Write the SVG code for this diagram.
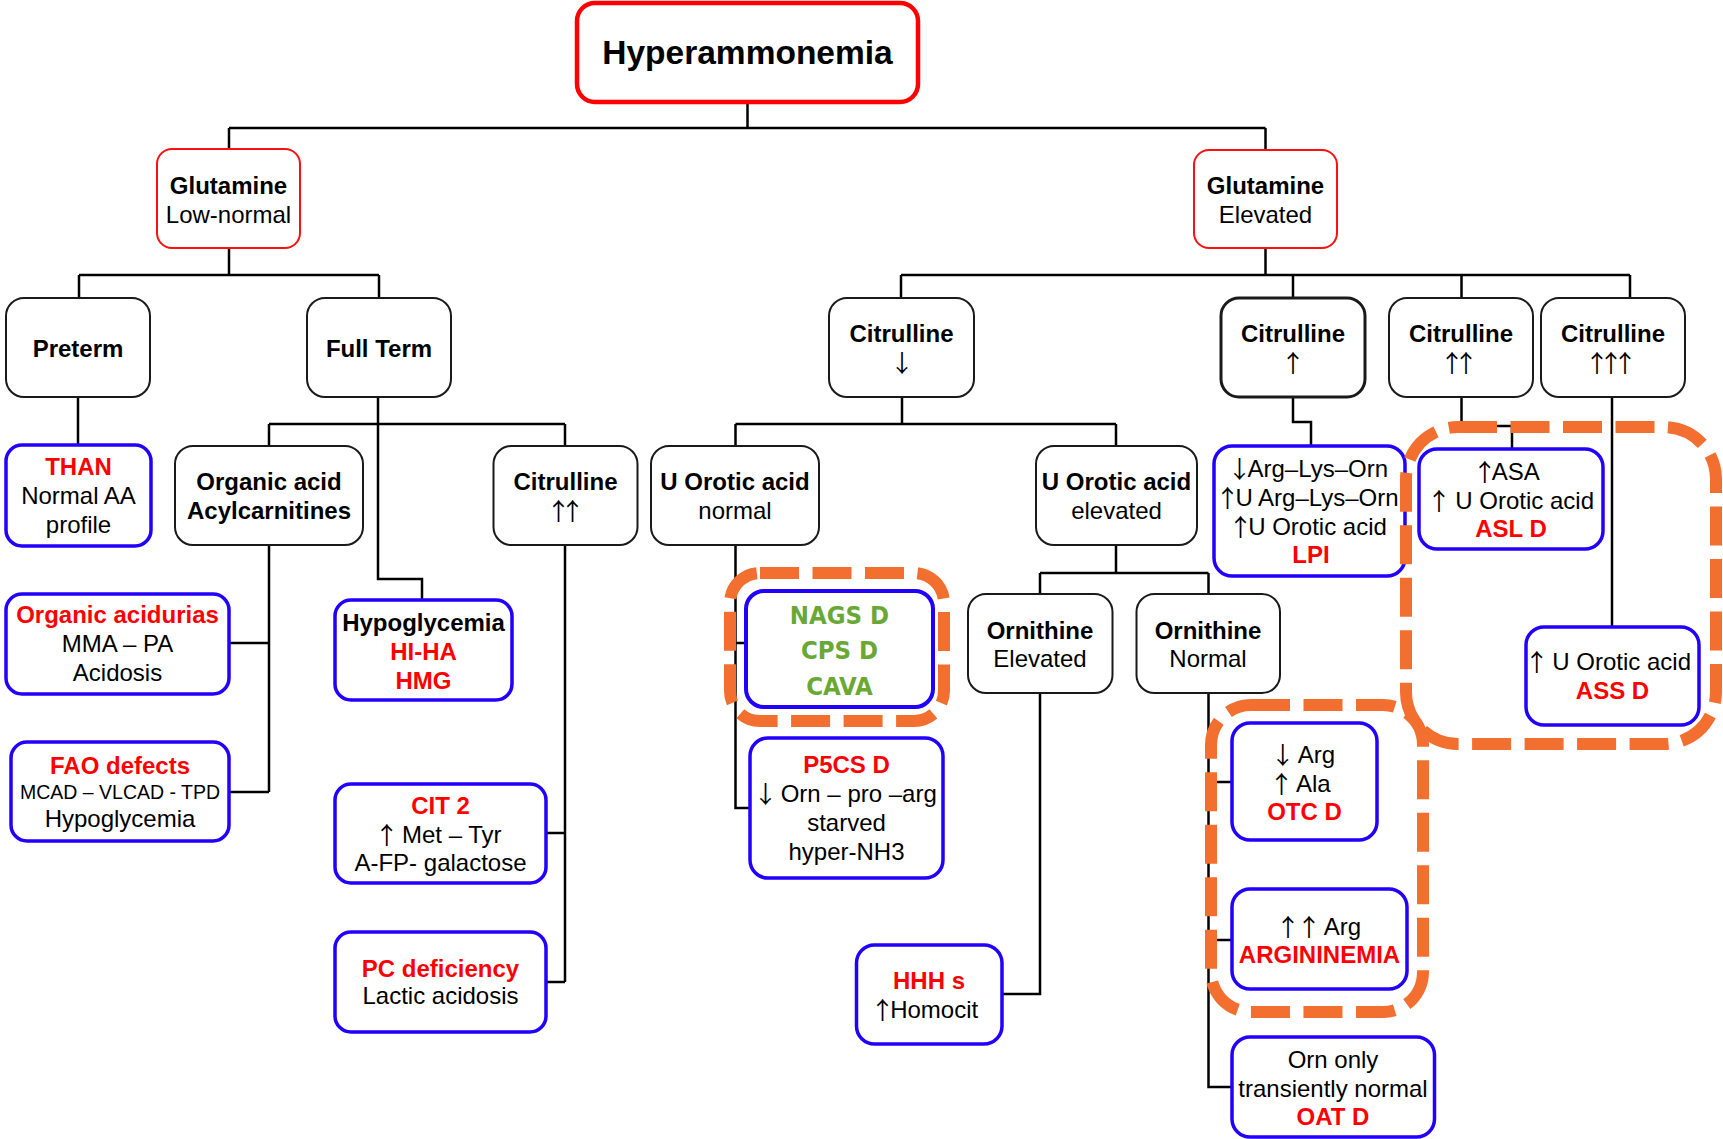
<svg xmlns="http://www.w3.org/2000/svg" width="1723" height="1139" viewBox="0 0 1723 1139">
<style>
.box{fill:#fff;stroke:#1a1a1a;stroke-width:2}
.rb{fill:#fff;stroke:#ff1010;stroke-width:2}
.bb{fill:#fff;stroke:#2200ff;stroke-width:3.5}
.t{font-family:"Liberation Sans",Arial,sans-serif;font-size:24px;text-anchor:middle;fill:#000}
.s{text-anchor:start}
.aw{font-family:"Noto Sans CJK JP","Noto Sans CJK SC",sans-serif;font-weight:normal;text-anchor:start;letter-spacing:-10px;fill:#000}
.a1{letter-spacing:-23px}
.b{font-weight:bold}
.r{fill:#ff0000;font-weight:bold}
.g{font-family:"DejaVu Sans Condensed","DejaVu Sans",sans-serif;font-weight:bold;font-size:25.5px;text-anchor:middle;fill:#6aa836}
.conn{stroke:#000;stroke-width:2.5;fill:none}
.or{fill:none;stroke:#f26f30;stroke-width:12;stroke-dasharray:39 13.5}
</style>
<rect width="1723" height="1139" fill="#fff"/>
<g id="connectors">
<path class="conn" d="M747.5,102V128M229,128H1265.5M229,128V149M1265.5,128V150"/>
<path class="conn" d="M229,248V275M79,275H379M79,275V298M379,275V298"/>
<path class="conn" d="M1265.5,248V275M901,275H1630M901,275V298M1293,275V298M1461.5,275V298M1630,275V298"/>
<path class="conn" d="M78,397V445"/>
<path class="conn" d="M378,397V579H422V600M269,424H565M269,424V446M565,424V446"/>
<path class="conn" d="M269,545V792M229,643H269M229,792H269"/>
<path class="conn" d="M565,545V982M546,833H565M546,982H565"/>
<path class="conn" d="M902,397V424M735.5,424H1116M735.5,424V446M1116,424V446"/>
<path class="conn" d="M735.5,545V808H750M735.5,643H746"/>
<path class="conn" d="M1116,545V573M1040,573H1208.5M1040,573V594M1208.5,573V594"/>
<path class="conn" d="M1040,693V994H1002"/>
<path class="conn" d="M1208.5,693V1087H1232M1208.5,782H1232M1208.5,940H1232"/>
<path class="conn" d="M1293,397V422H1311V446"/>
<path class="conn" d="M1461.5,397V426H1512V449"/>
<path class="conn" d="M1612,397V627"/>
</g>
<g id="n-hyper"><rect x="577" y="3" width="341" height="99" rx="18" fill="#fff" stroke="#ff0000" stroke-width="4.5"/>
<text class="t b" x="747.5" y="64" style="font-size:33.5px">Hyperammonemia</text></g>
<g id="n-glut-low"><rect class="rb" x="157" y="149" width="143" height="99" rx="15"/>
<text class="t"><tspan class="b" x="228.5" y="194">Glutamine</tspan><tspan x="228.5" y="223">Low-normal</tspan></text></g>
<g id="n-glut-elev"><rect class="rb" x="1194" y="150" width="143" height="98" rx="15"/>
<text class="t"><tspan class="b" x="1265.5" y="194">Glutamine</tspan><tspan x="1265.5" y="223">Elevated</tspan></text></g>
<g id="n-preterm"><rect class="box" x="6" y="298" width="144" height="99" rx="18"/>
<text class="t b" x="78" y="357">Preterm</text></g>
<g id="n-fullterm"><rect class="box" x="307" y="298" width="144" height="99" rx="18"/>
<text class="t b" x="379" y="357">Full Term</text></g>
<g id="n-cit-down"><rect class="box" x="829" y="298" width="145" height="99" rx="18"/>
<text class="t"><tspan class="b" x="901.5" y="342">Citrulline</tspan><tspan class="aw" x="890" y="372">↓</tspan></text></g>
<g id="n-cit-up1"><rect class="box" x="1221" y="298" width="144" height="99" rx="18" style="stroke-width:3"/>
<text class="t"><tspan class="b" x="1293" y="342">Citrulline</tspan><tspan class="aw" x="1281" y="372">↑</tspan></text></g>
<g id="n-cit-up2"><rect class="box" x="1389" y="298" width="144" height="99" rx="18"/>
<text class="t"><tspan class="b" x="1461" y="342">Citrulline</tspan><tspan class="aw" x="1440" y="372">↑↑</tspan></text></g>
<g id="n-cit-up3"><rect class="box" x="1541" y="298" width="144" height="99" rx="18"/>
<text class="t"><tspan class="b" x="1613" y="342">Citrulline</tspan><tspan class="aw" x="1585" y="372">↑↑↑</tspan></text></g>
<g id="n-than"><rect class="bb" x="6" y="445" width="145" height="101" rx="16"/>
<text class="t"><tspan class="r" x="78.5" y="475">THAN</tspan><tspan x="78.5" y="504">Normal AA</tspan><tspan x="78.5" y="533">profile</tspan></text></g>
<g id="n-orgacid"><rect class="box" x="175" y="446" width="188" height="99" rx="18"/>
<text class="t b"><tspan x="269" y="490">Organic acid</tspan><tspan x="269" y="519">Acylcarnitines</tspan></text></g>
<g id="n-cit-up2-left"><rect class="box" x="493.5" y="446" width="144" height="99" rx="18"/>
<text class="t"><tspan class="b" x="565.5" y="490">Citrulline</tspan><tspan class="aw" x="546.5" y="520">↑↑</tspan></text></g>
<g id="n-orgaciduria"><rect class="bb" x="6" y="594" width="223" height="100" rx="16"/>
<text class="t"><tspan class="r" x="117.5" y="623">Organic acidurias</tspan><tspan x="117.5" y="652">MMA – PA</tspan><tspan x="117.5" y="681">Acidosis</tspan></text></g>
<g id="n-fao"><rect class="bb" x="11" y="742" width="218" height="99" rx="16"/>
<text class="t"><tspan class="r" x="120" y="774">FAO defects</tspan><tspan x="120" y="799" style="font-size:19.5px">MCAD – VLCAD - TPD</tspan><tspan x="120" y="827">Hypoglycemia</tspan></text></g>
<g id="n-hypogly"><rect class="bb" x="335" y="600" width="177" height="100" rx="16"/>
<text class="t"><tspan class="b" x="423.5" y="631">Hypoglycemia</tspan><tspan class="r" x="423.5" y="660">HI-HA</tspan><tspan class="r" x="423.5" y="688.5">HMG</tspan></text></g>
<g id="n-cit2"><rect class="bb" x="335" y="784" width="211" height="99" rx="16"/>
<text class="t"><tspan class="r" x="440.5" y="814">CIT 2</tspan><tspan class="aw" x="374.7" y="844">↑</tspan><tspan class="s" x="402" y="843">Met – Tyr</tspan><tspan x="440.5" y="871">A-FP- galactose</tspan></text></g>
<g id="n-pc"><rect class="bb" x="335" y="932" width="211" height="100" rx="16"/>
<text class="t"><tspan class="r" x="440.5" y="977">PC deficiency</tspan><tspan x="440.5" y="1004">Lactic acidosis</tspan></text></g>
<g id="n-uorot-norm"><rect class="box" x="651" y="446" width="168" height="99" rx="18"/>
<text class="t"><tspan class="b" x="735" y="490">U Orotic acid</tspan><tspan x="735" y="519">normal</tspan></text></g>
<g id="n-uorot-elev"><rect class="box" x="1036" y="446" width="161" height="99" rx="18"/>
<text class="t"><tspan class="b" x="1116.5" y="490">U Orotic acid</tspan><tspan x="1116.5" y="519">elevated</tspan></text></g>
<g id="n-nags"><rect class="bb" x="746" y="591" width="187" height="116" rx="18" style="stroke-width:4"/>
<text class="g"><tspan x="839.5" y="624">NAGS D</tspan><tspan x="839.5" y="659">CPS D</tspan><tspan x="839.5" y="695">CAVA</tspan></text></g>
<g id="n-p5cs"><rect class="bb" x="750" y="738" width="193" height="140" rx="18"/>
<text class="t"><tspan class="r" x="846.5" y="773">P5CS D</tspan><tspan class="aw" x="753.4" y="803">↓</tspan><tspan class="s" x="780.7" y="802">Orn – pro –arg</tspan><tspan x="846.5" y="831">starved</tspan><tspan x="846.5" y="860">hyper-NH3</tspan></text></g>
<g id="n-orn-elev"><rect class="box" x="968" y="594" width="144.5" height="99" rx="18"/>
<text class="t"><tspan class="b" x="1040" y="638.5">Ornithine</tspan><tspan x="1040" y="667">Elevated</tspan></text></g>
<g id="n-orn-norm"><rect class="box" x="1136.5" y="594" width="143.5" height="99" rx="18"/>
<text class="t"><tspan class="b" x="1208" y="638.5">Ornithine</tspan><tspan x="1208" y="667">Normal</tspan></text></g>
<g id="n-hhh"><rect class="bb" x="856.5" y="945" width="145.5" height="99" rx="18"/>
<text class="t"><tspan class="r" x="929" y="989">HHH s</tspan><tspan class="aw" x="870.5" y="1019">↑</tspan><tspan class="s" x="890.2" y="1018">Homocit</tspan></text></g>
<g id="n-lpi"><rect class="bb" x="1214" y="446" width="191" height="130" rx="18"/>
<text class="t"><tspan class="aw a1" x="1227.6" y="478">↓</tspan><tspan class="s" x="1247.5" y="477">Arg–Lys–Orn</tspan><tspan class="aw a1" x="1215.4" y="507">↑</tspan><tspan class="s" x="1235.4" y="506">U Arg–Lys–Orn</tspan><tspan class="aw a1" x="1228.6" y="535.5">↑</tspan><tspan class="s" x="1248.2" y="534.5">U Orotic acid</tspan><tspan class="r" x="1311" y="563">LPI</tspan></text></g>
<g id="n-asl"><rect class="bb" x="1419" y="449" width="184" height="100" rx="18"/>
<text class="t"><tspan class="aw" x="1472.7" y="481">↑</tspan><tspan class="s" x="1491.7" y="480">ASA</tspan><tspan class="aw" x="1427" y="509.5">↑</tspan><tspan class="s" x="1455.3" y="508.5">U Orotic acid</tspan><tspan class="r" x="1511" y="537">ASL D</tspan></text></g>
<g id="n-ass"><rect class="bb" x="1526" y="627" width="173" height="98" rx="18"/>
<text class="t"><tspan class="aw" x="1524.7" y="671">↑</tspan><tspan class="s" x="1552.3" y="670">U Orotic acid</tspan><tspan class="r" x="1612.5" y="699">ASS D</tspan></text></g>
<g id="n-otc"><rect class="bb" x="1232" y="723" width="145" height="117" rx="18"/>
<text class="t"><tspan class="aw a1" x="1270.8" y="764">↓</tspan><tspan class="s" x="1297.7" y="763">Arg</tspan><tspan class="aw a1" x="1269.5" y="793">↑</tspan><tspan class="s" x="1296" y="792">Ala</tspan><tspan class="r" x="1304.5" y="820">OTC D</tspan></text></g>
<g id="n-arg"><rect class="bb" x="1232" y="889" width="175" height="100" rx="18"/>
<text class="t"><tspan class="aw" x="1276" y="936" style="letter-spacing:-3px">↑↑</tspan><tspan class="s" x="1323.7" y="935">Arg</tspan><tspan class="r" x="1319.5" y="963">ARGININEMIA</tspan></text></g>
<g id="n-oat"><rect class="bb" x="1232" y="1037" width="202.5" height="100" rx="18"/>
<text class="t"><tspan x="1333" y="1068">Orn only</tspan><tspan x="1333" y="1097">transiently normal</tspan><tspan class="r" x="1333" y="1125">OAT D</tspan></text></g>
<g id="highlights">
<rect class="or" x="730" y="573" width="214" height="148" rx="30"/>
<rect class="or" x="1406" y="427" width="310" height="317" rx="52"/>
<rect class="or" x="1211" y="705" width="212" height="307" rx="40"/>
</g>
</svg>
